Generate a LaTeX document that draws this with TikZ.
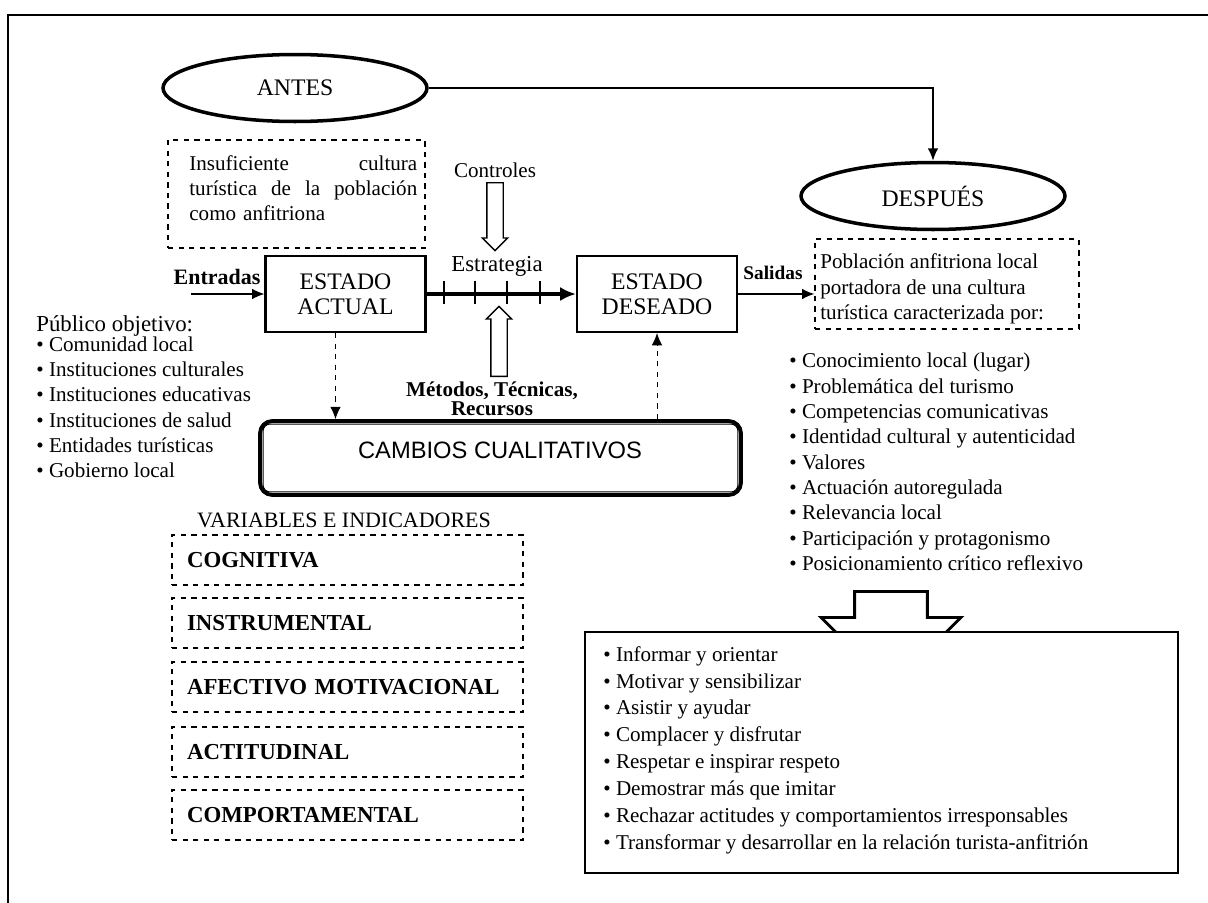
\documentclass[tikz,border=0pt]{standalone}
\usepackage{fontspec}
\setmainfont{Liberation Serif}
\setsansfont{Liberation Sans}
\usetikzlibrary{arrows.meta,shapes.geometric,shapes.arrows}

\begin{document}
\begin{tikzpicture}[x=0.02cm,y=-0.02cm,
   txt/.style={inner sep=0pt,font=\fontsize{12}{14.4}\selectfont},
   oval/.style={draw,ellipse,line width=2pt,minimum width=5.28cm,minimum height=1.34cm,font=\fontsize{13.5}{15}\selectfont},
   estado/.style={draw,line width=1.2pt,minimum width=3.2cm,minimum height=1.52cm,align=center,font=\fontsize{13.5}{14.2}\selectfont},
   dashbox/.style={draw,dashed,line width=0.7pt},
   varbox/.style={dashbox,minimum width=7.02cm,minimum height=1cm,text width=6.42cm,inner xsep=0.3cm,inner ysep=0pt,align=left,font=\bfseries\fontsize{13}{14}\selectfont},
   hollow/.style={draw,single arrow,line width=0.8pt,inner xsep=0pt,inner ysep=0.15cm,single arrow head extend=0.09cm,anchor=tail},
   conn/.style={-{Latex[length=7pt,width=6pt]},line width=0.8pt},
   dasharrow/.style={conn,dashed,line width=0.5pt}]
\useasboundingbox (0,0) rectangle (1208,903);
\draw[line width=1.1pt] (8,903) -- (8,15) -- (1208,15);

\node[oval] (antes) at (295,88) {ANTES};
\node[oval] (despues) at (933,196) {DESPUÉS};
\draw[conn,line width=1pt] (antes.east) -| (despues.north);

\node[dashbox,minimum width=5.14cm,minimum height=2.16cm] (insuf) at (296.5,194) {};
\node[txt,anchor=north west,text width=4.56cm,align=left,font=\fontsize{12}{14.2}\selectfont] (insuftxt) at (189,155)
   {Insuficiente\hfill cultura\\turística\hfill de\hfill la\hfill población\\como anfitriona};

\node[estado] (actual) at (345.5,294) {ESTADO\\ACTUAL};
\node[estado] (deseado) at (657,294) {ESTADO\\DESEADO};

\node[txt,font=\bfseries\fontsize{12.5}{14}\selectfont] (entradas) at (217,277) {Entradas};
\coordinate (entin) at (191,294);
\draw[conn] (entin) -- (actual.west);

\draw[line width=1.8pt,-{Latex[length=9pt,width=8pt]}] (actual.east) -- (deseado.west);
\draw[line width=0.8pt] (444,281) -- (444,304) (475,281) -- (475,304) (507,281) -- (507,304) (540,281) -- (540,304);
\node[txt,font=\fontsize{13}{14}\selectfont] (estrat) at (497,266) {Estrategia};

\node[txt] (controles) at (495,170) {Controles};
\node[hollow,minimum height=1.36cm,rotate=-90] (ctrlarrow) at (495,182) {};
\node[hollow,minimum height=1.4cm,rotate=90] (mtdarrow) at (499,377) {};
\node[txt,align=center,font=\bfseries\fontsize{12}{11}\selectfont] (metodos) at (492,399) {Métodos, Técnicas,\\Recursos};

\node[txt,font=\bfseries\fontsize{11}{13}\selectfont] (salidas) at (773,273) {Salidas};
\node[dashbox,minimum width=5.28cm,minimum height=1.8cm] (pobl) at (947,284) {};
\draw[conn] (deseado.east) -- (deseado.east -| pobl.west);
\node[txt,anchor=north west,align=left,font=\fontsize{12}{14.7}\selectfont] (pobltxt) at (820,253)
   {Población anfitriona local\\portadora de una cultura\\turística caracterizada por:};

\node[draw,line width=2.2pt,rounded corners=7pt,minimum width=9.62cm,minimum height=1.48cm] (cambios) at (500.5,458) {};
\draw[line width=0.5pt,rounded corners=4pt] ([shift={(5,-5)}]cambios.south west) rectangle ([shift={(-5,5)}]cambios.north east);
\node[txt,font=\sffamily\fontsize{13.5}{15}\selectfont] (cambiostxt) at (500,450) {CAMBIOS CUALITATIVOS};

\coordinate (dA) at ([xshift=-0.2cm]actual.south);
\draw[dasharrow] (dA) -- (dA |- cambios.north);
\draw[dasharrow] (cambios.north -| deseado.south) -- (deseado.south);

\node[txt,anchor=north west,align=left,font=\fontsize{13}{14.4}\selectfont] (publico) at (36,315)
   {Público objetivo:\\[-3pt]
   {\fontsize{12}{14.4}\selectfont\textbullet\ Comunidad local}\\
   {\fontsize{12}{14.4}\selectfont\textbullet\ Instituciones culturales}\\
   {\fontsize{12}{14.4}\selectfont\textbullet\ Instituciones educativas}\\
   {\fontsize{12}{14.4}\selectfont\textbullet\ Instituciones de salud}\\
   {\fontsize{12}{14.4}\selectfont\textbullet\ Entidades turísticas}\\
   {\fontsize{12}{14.4}\selectfont\textbullet\ Gobierno local}};

\node[txt,font=\fontsize{12.5}{14}\selectfont] (variables) at (344,520) {VARIABLES E INDICADORES};
\node[varbox] (cognitiva) at (347.5,560) {COGNITIVA};
\node[varbox] (instrumental) at (347.5,623) {INSTRUMENTAL};
\node[varbox] (afectivo) at (347.5,687) {AFECTIVO MOTIVACIONAL};
\node[varbox] (actitudinal) at (347.5,752) {ACTITUDINAL};
\node[varbox] (comportamental) at (347.5,815) {COMPORTAMENTAL};

\node[txt,anchor=north west,align=left,font=\fontsize{12}{14.4}\selectfont] (rasgos) at (789,353)
   {\textbullet\ Conocimiento local (lugar)\\
   \textbullet\ Problemática del turismo\\
   \textbullet\ Competencias comunicativas\\
   \textbullet\ Identidad cultural y autenticidad\\
   \textbullet\ Valores\\
   \textbullet\ Actuación autoregulada\\
   \textbullet\ Relevancia local\\
   \textbullet\ Participación y protagonismo\\
   \textbullet\ Posicionamiento crítico reflexivo};

\node[hollow,line width=1.6pt,inner ysep=0.7cm,minimum height=1.92cm,single arrow head extend=0.67cm,rotate=-90] (bigarrow) at (891,590) {};
\node[draw,fill=white,line width=1pt,minimum width=11.86cm,minimum height=4.82cm] (acciones) at (881.5,752.5) {};
\node[txt,anchor=north west,align=left,font=\fontsize{12}{15.3}\selectfont] (accionestxt) at (603,646)
   {\textbullet\ Informar y orientar\\
   \textbullet\ Motivar y sensibilizar\\
   \textbullet\ Asistir y ayudar\\
   \textbullet\ Complacer y disfrutar\\
   \textbullet\ Respetar e inspirar respeto\\
   \textbullet\ Demostrar más que imitar\\
   \textbullet\ Rechazar actitudes y comportamientos irresponsables\\
   \textbullet\ Transformar y desarrollar en la relación turista-anfitrión};
\end{tikzpicture}
\end{document}
